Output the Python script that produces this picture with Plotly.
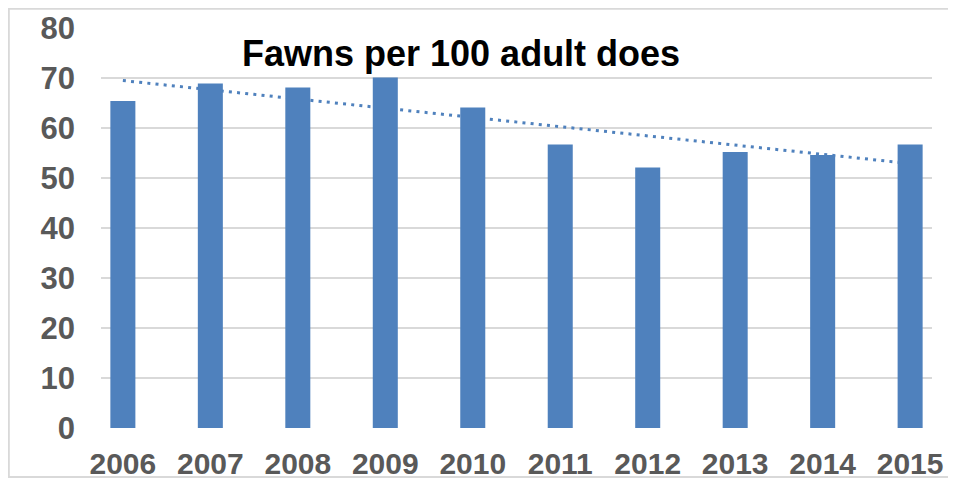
import numpy as np
import plotly.graph_objects as go

# ---- data ----
years = ["2006", "2007", "2008", "2009", "2010", "2011", "2012", "2013", "2014", "2015"]
fawns_per_100_does = [65.4, 68.9, 68.1, 70.1, 64.1, 56.7, 52.1, 55.2, 54.6, 56.7]
y_tick_values = [0, 10, 20, 30, 40, 50, 60, 70, 80]
chart_title = "Fawns per 100 adult does"

# linear trendline (least-squares fit of the series)
idx = np.arange(len(years))
slope, intercept = np.polyfit(idx, fawns_per_100_does, 1)
trend = (slope * idx + intercept).tolist()

BLUE = "#4F81BD"
GRID = "#D9D9D9"
TICK = "#595959"
FONT = "Liberation Sans, Arial, sans-serif"

# page has an 8px body margin, so the figure is drawn 8px in from the page corner
OFF = 8
W, H = 956 - OFF, 479 - OFF
L, R, T, B = 93, 24, 20, 51
pw, ph = W - L - R, H - T - B


def px_x(p):
    return (p - L) / pw


def px_y(p):
    return (H - B - p) / ph


fig = go.Figure()

# trendline on the base axes (drawn beneath the bars)
fig.add_trace(go.Scatter(
    x=years, y=trend, mode="lines",
    line=dict(color=BLUE, width=3, dash="3px,5.2px"),
    hoverinfo="skip", showlegend=False,
))

# bars on overlaying axes so they sit above the trendline
fig.add_trace(go.Bar(
    x=years, y=fawns_per_100_does, xaxis="x2", yaxis="y2",
    marker=dict(color=BLUE, line=dict(width=0)),
    width=0.286, showlegend=False,
))

xr = [-0.25, 9.25]
yr = [0, 80]

fig.update_layout(
    width=W, height=H,
    margin=dict(l=L, r=R, t=T, b=B, autoexpand=False),
    paper_bgcolor="white", plot_bgcolor="white",
    showlegend=False,
    xaxis=dict(
        type="category", categoryarray=years, range=xr, automargin=False,
        showgrid=False, zeroline=False, showline=False, ticks="",
        tickfont=dict(family=FONT, size=30, color=TICK, weight="bold"),
        ticklabelstandoff=15,
    ),
    yaxis=dict(
        range=yr, tickvals=y_tick_values, automargin=False,
        showgrid=True, gridcolor=GRID, gridwidth=1.6,
        zeroline=False, showline=False, ticks="",
        tickfont=dict(family=FONT, size=31, color=TICK, weight="bold"),
        ticklabelstandoff=25,
    ),
    xaxis2=dict(
        type="category", categoryarray=years, range=xr, overlaying="x",
        automargin=False,
        showgrid=False, zeroline=False, showticklabels=False, ticks="",
    ),
    yaxis2=dict(
        range=yr, overlaying="y", showgrid=False, zeroline=False,
        automargin=False,
        showticklabels=False, ticks="",
    ),
    annotations=[dict(
        text="<b>" + chart_title + "</b>",
        xref="paper", yref="paper", x=px_x(232), y=px_y(45.2),
        xanchor="left", yanchor="middle", showarrow=False,
        font=dict(family=FONT, size=36, color="black"),
    )],
    shapes=[
        # chart frame (open on the right, clipped by the page edge)
        dict(type="rect", xref="paper", yref="paper",
             x0=px_x(0.8), x1=px_x(975), y0=px_y(469), y1=px_y(0.8),
             line=dict(color=GRID, width=2), fillcolor="rgba(0,0,0,0)", layer="below"),
    ],
)

fig.write_html("out.html")
